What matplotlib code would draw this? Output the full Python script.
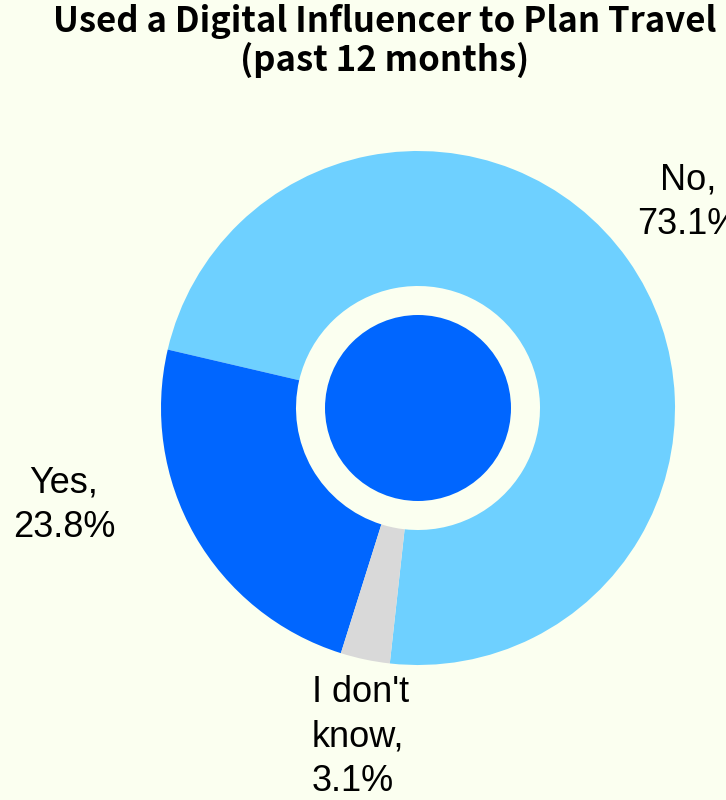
import matplotlib.pyplot as plt
from matplotlib.patches import Circle

labels = ["No", "Yes", "I don't\nknow"]
shares = [73.1, 23.8, 3.1]
colors = ["#6ed0ff", "#0066ff", "#d9d9d9"]
title = "Used a Digital Influencer to Plan Travel\n(past 12 months)"

BG = "#fbfff0"
W, H = 726, 800
CX, CY = 418, 408
R_OUT, R_IN, R_CORE = 257, 122, 93


def main() -> None:
    fig = plt.figure(figsize=(W / 100, H / 100), dpi=100, facecolor=BG)
    ax = fig.add_axes([0, 0, 1, 1])
    ax.set_facecolor(BG)

    center = (CX, H - CY)
    ax.pie(
        shares,
        colors=colors,
        startangle=-96.3,
        counterclock=True,
        radius=R_OUT,
        center=center,
        wedgeprops=dict(width=R_OUT - R_IN, linewidth=0),
        frame=True,
    )
    ax.set_xlim(0, W)
    ax.set_ylim(0, H)
    ax.set_aspect("equal")
    ax.axis("off")
    ax.add_patch(Circle(center, R_CORE, color=colors[1], linewidth=0))

    font = dict(family=["Liberation Sans", "DejaVu Sans"], fontsize=26, color="black", linespacing=1.35)
    texts = [f"{lab},\n{val}%" for lab, val in zip(labels, shares)]
    ax.text(688, H - 202, texts[0], ha="center", va="center", multialignment="center", **font)
    ax.text(64, H - 505, texts[1], ha="center", va="center", multialignment="center", **font)
    ax.text(312, H - 737, texts[2], ha="left", va="center", multialignment="left", **font)

    fig.text(385 / W, 1 - 4 / H, title, ha="center", va="top", fontsize=25, fontweight="bold",
             family=["Noto Sans CJK JP", "DejaVu Sans"], linespacing=1.1)

    fig.savefig("out.png", dpi=100, facecolor=BG)
    plt.close(fig)


if __name__ == "__main__":
    main()
